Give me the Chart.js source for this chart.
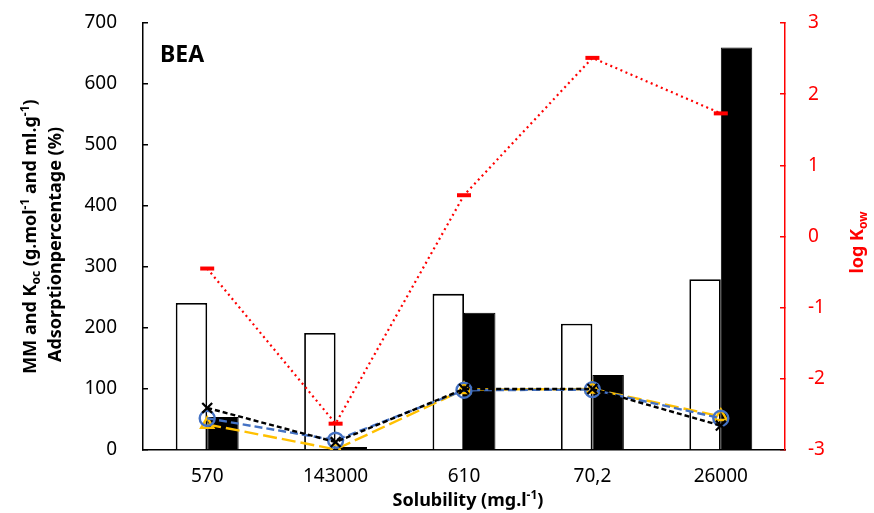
<!DOCTYPE html>
<html>
<head>
<meta charset="utf-8">
<script src="https://cdn.jsdelivr.net/npm/chart.js@4"></script>
<style>
  html, body { margin: 0; padding: 0; background: #fff; }
  #wrap { width: 874px; height: 513px; }
</style>
</head>
<body>
<div id="wrap"><canvas id="chart" width="874" height="513"></canvas></div>
<script>
const solubility = ["570", "143000", "610", "70,2", "26000"];
const molarMass = [241, 192, 256, 207, 280];
const koc = [54, 5, 225, 123, 660];
const adsorptionBlack = [69, 13, 100, 100, 40];
const adsorptionBlue = [52, 16, 98, 99, 52];
const adsorptionYellow = [42, 1, 99, 100, 55];
const logKow = [-0.45, -2.63, 0.58, 2.51, 1.73];

const FONT = "'Noto Sans', sans-serif";

// draws text with sub/superscript parts, centred on (cx, cy)
function drawRich(ctx, parts, cx, cy, size, color) {
  const small = Math.round(size * 0.65);
  const w = parts.map(p => {
    ctx.font = "bold " + (p[1] === "n" ? size : small) + "px " + FONT;
    return ctx.measureText(p[0]).width;
  });
  const total = w.reduce((a, b) => a + b, 0);
  let x = cx - total / 2;
  const base = cy + size * 0.35;
  ctx.fillStyle = color;
  ctx.textAlign = "left";
  ctx.textBaseline = "alphabetic";
  parts.forEach((p, i) => {
    ctx.font = "bold " + (p[1] === "n" ? size : small) + "px " + FONT;
    let y = base;
    if (p[1] === "sup") y = base - size * 0.4;
    if (p[1] === "sub") y = base + size * 0.22;
    ctx.fillText(p[0], x, y);
    x += w[i];
  });
}

const titlesPlugin = {
  id: "titles",
  afterDraw(chart) {
    const ctx = chart.ctx;
    const area = chart.chartArea;
    const midY = (area.top + area.bottom) / 2;
    ctx.save();
    // panel label
    ctx.font = "bold 23px " + FONT;
    ctx.fillStyle = "#000";
    ctx.fillText("BEA", area.left + 17, area.top + 39);

    // left axis title, two lines
    ctx.save();
    ctx.translate(30, midY);
    ctx.rotate(-Math.PI / 2);
    drawRich(ctx, [["MM and K", "n"], ["oc", "sub"], [" (g.mol", "n"], ["-1", "sup"],
      [" and ml.g", "n"], ["-1", "sup"], [")", "n"]], 0, 0, 18, "#000");
    ctx.restore();
    ctx.save();
    ctx.translate(55, midY + 8);
    ctx.rotate(-Math.PI / 2);
    drawRich(ctx, [["Adsorptionpercentage (%)", "n"]], 0, 0, 18, "#000");
    ctx.restore();

    // right axis title
    ctx.save();
    ctx.translate(857, midY + 6);
    ctx.rotate(-Math.PI / 2);
    drawRich(ctx, [["log K", "n"], ["ow", "sub"]], 0, 0, 18, "#ff0000");
    ctx.restore();

    // x axis title
    drawRich(ctx, [["Solubility (mg.l", "n"], ["-1", "sup"], [")", "n"]],
      (area.left + area.right) / 2 + 4, 500, 18, "#000");
    ctx.restore();
  }
};

// fixed axis sizes so the plot area sits where the original one does
function fitY(width) {
  return s => {
    s.width = width;
    s.paddingTop = 0;
    s.paddingBottom = 0;
  };
}

new Chart(document.getElementById("chart"), {
  data: {
    labels: solubility,
    datasets: [
      {
        type: "line", label: "log Kow", data: logKow, yAxisID: "yr", order: 1,
        borderColor: "#ff0000", borderWidth: 2.2, borderDash: [2, 3.5],
        pointStyle: "line", pointRadius: 7, pointBorderWidth: 4,
        pointBorderColor: "#ff0000", fill: false
      },
      {
        type: "line", label: "black", data: adsorptionBlack, yAxisID: "y", order: 2,
        borderColor: "#000", borderWidth: 2.4, borderDash: [5, 3],
        pointStyle: "crossRot", pointRadius: 7, pointBorderWidth: 2.2,
        pointBorderColor: "#000", fill: false
      },
      {
        type: "line", label: "blue", data: adsorptionBlue, yAxisID: "y", order: 3,
        borderColor: "#4472c4", borderWidth: 2.4, borderDash: [8, 4],
        pointStyle: "circle", pointRadius: 7.5, pointBorderWidth: 2.4,
        pointBorderColor: "#4472c4", pointBackgroundColor: "rgba(0,0,0,0)", fill: false
      },
      {
        type: "line", label: "yellow", data: adsorptionYellow, yAxisID: "y", order: 4,
        borderColor: "#ffc000", borderWidth: 2.4, borderDash: [14, 5],
        pointStyle: "triangle", pointRadius: 7, pointBorderWidth: 2.4,
        pointBorderColor: "#ffc000", pointBackgroundColor: "rgba(0,0,0,0)", fill: false
      },
      {
        type: "bar", label: "MM", data: molarMass, yAxisID: "y", order: 10,
        backgroundColor: "#fff", borderColor: "#000", borderWidth: 1.8,
        categoryPercentage: 0.49, barPercentage: 1
      },
      {
        type: "bar", label: "Koc", data: koc, yAxisID: "y", order: 10,
        backgroundColor: "#000", borderColor: "#000", borderWidth: 1,
        categoryPercentage: 0.49, barPercentage: 1
      }
    ]
  },
  options: {
    responsive: false,
    animation: false,
    layout: { padding: { top: 23, left: 0, right: 0, bottom: 0 } },
    plugins: { legend: { display: false }, tooltip: { enabled: false } },
    scales: {
      x: {
        type: "category",
        grid: { display: false, drawTicks: false },
        border: { display: true, color: "#000", width: 1.5 },
        ticks: { color: "#000", font: { family: FONT, size: 19 }, padding: 15, maxRotation: 0 },
        afterFit: s => { s.height = 63; }
      },
      y: {
        position: "left", min: 0, max: 700,
        grid: { drawOnChartArea: false, tickLength: -5, color: "#000", lineWidth: 1.5 },
        border: { display: true, color: "#000", width: 1.5 },
        ticks: { stepSize: 100, color: "#000", font: { family: FONT, size: 19 }, padding: 31 },
        afterFit: fitY(143)
      },
      yr: {
        position: "right", min: -3, max: 3,
        grid: { drawOnChartArea: false, tickLength: -5, color: "#ff0000", lineWidth: 1.5 },
        border: { display: true, color: "#ff0000", width: 1.5 },
        ticks: { stepSize: 1, color: "#ff0000", font: { family: FONT, size: 19 }, padding: 28 },
        afterFit: fitY(89)
      }
    }
  },
  plugins: [titlesPlugin]
});
</script>
</body>
</html>
